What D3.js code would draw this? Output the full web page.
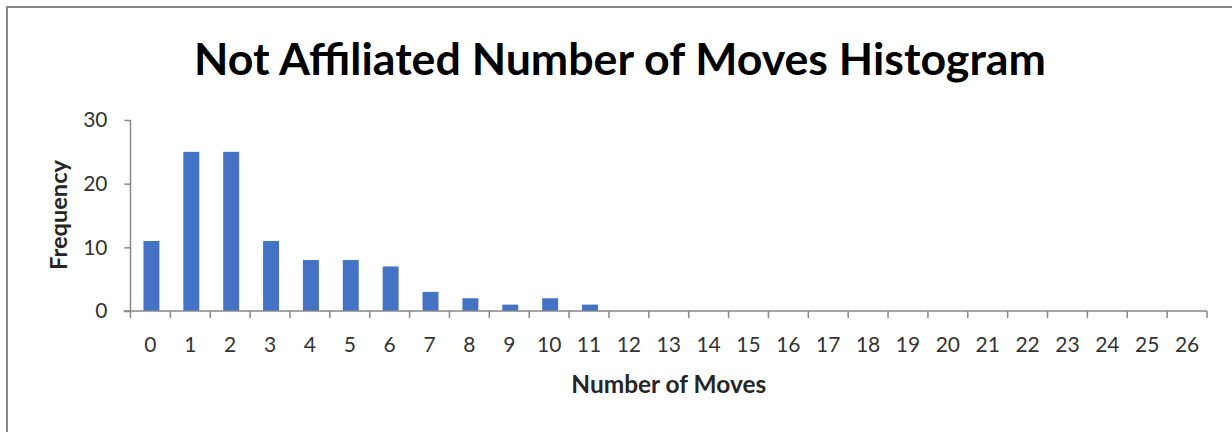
<!DOCTYPE html>
<html>
<head>
<meta charset="utf-8">
<script src="https://cdn.jsdelivr.net/npm/d3@7"></script>
<style>
html,body{margin:0;padding:0;background:#fff;}
svg{display:block;}
</style>
</head>
<body>
<script>
const categories = ["0","1","2","3","4","5","6","7","8","9","10","11","12","13","14","15","16","17","18","19","20","21","22","23","24","25","26"];
const frequency = [11,25,25,11,8,8,7,3,2,1,2,1,0,0,0,0,0,0,0,0,0,0,0,0,0,0,0];
const yTicks = [0,10,20,30];
const titleText = "Not Affiliated Number of Moves Histogram";
const xLabel = "Number of Moves";
const yLabel = "Frequency";

const W = 1232, H = 432;
const pLeft = 130.5, pRight = 1207, pTop = 120, pBottom = 311;

const svg = d3.select("body").append("svg").attr("width", W).attr("height", H);

svg.append("rect").attr("x", 7).attr("y", 7).attr("width", 1240).attr("height", 440)
  .attr("fill", "#fff").attr("stroke", "#888").attr("stroke-width", 2);

const x = d3.scaleBand().domain(categories).range([pLeft, pRight]).paddingInner(0.6).paddingOuter(0.3);
const y = d3.scaleLinear().domain([0, 30]).range([pBottom, pTop]);

const axisColor = "#878787";
const labelColor = "#333";
const tickFont = "21px";

// bars
svg.append("g").selectAll("rect").data(frequency).join("rect")
  .attr("x", (d, i) => x(categories[i]) + 1)
  .attr("y", d => y(d))
  .attr("width", x.bandwidth())
  .attr("height", d => y(0) - y(d))
  .attr("fill", "#4472C4");

// y axis
const yAxis = svg.append("g").attr("transform", `translate(${pLeft},0)`)
  .call(d3.axisLeft(y).tickValues(yTicks).tickSize(6).tickPadding(17).tickFormat(d3.format("d")));
yAxis.select(".domain").attr("stroke", axisColor).attr("stroke-width", 1.5).attr("d", `M0,${pTop}V${pBottom}`);
yAxis.selectAll(".tick line").attr("stroke", axisColor).attr("stroke-width", 1.5);
yAxis.selectAll(".tick text").attr("fill", labelColor).style("font-family", "Lato, 'Open Sans', sans-serif").style("font-size", tickFont);

// x axis (labels via band axis, boundary ticks drawn separately)
const xAxis = svg.append("g").attr("transform", `translate(0,${pBottom})`)
  .call(d3.axisBottom(x).tickSize(0).tickPadding(26));
xAxis.select(".domain").remove();
xAxis.selectAll(".tick text").attr("fill", labelColor).style("font-family", "Lato, 'Open Sans', sans-serif").style("font-size", tickFont);

const half = (x.step() - x.bandwidth()) / 2;
const bounds = categories.map(c => x(c) - half).concat([x.range()[1]]);
svg.append("line").attr("x1", pLeft - 7).attr("x2", pRight).attr("y1", pBottom).attr("y2", pBottom)
  .attr("stroke", axisColor).attr("stroke-width", 1.5);
svg.append("g").selectAll("line").data(bounds).join("line")
  .attr("x1", d => d).attr("x2", d => d).attr("y1", pBottom).attr("y2", pBottom + 7)
  .attr("stroke", axisColor).attr("stroke-width", 1.5);

function fit(sel, target) {
  const len = sel.node().getComputedTextLength();
  const fs = parseFloat(sel.style("font-size"));
  sel.style("font-size", (fs * target / len) + "px");
}

const title = svg.append("text").attr("x", 620).attr("y", 75).attr("text-anchor", "middle")
  .style("font-family", "Lato, 'Open Sans', sans-serif").style("font-weight", "bold").style("font-size", "40px")
  .attr("fill", "#000").text(titleText);
fit(title, 852);

const xl = svg.append("text").attr("x", (pLeft + pRight) / 2).attr("y", 393).attr("text-anchor", "middle")
  .style("font-family", "Lato, 'Open Sans', sans-serif").style("font-weight", "bold").style("font-size", "20px")
  .attr("fill", "#262626").text(xLabel);
fit(xl, 195);

const yl = svg.append("text").attr("transform", "translate(67,215) rotate(-90)").attr("text-anchor", "middle")
  .style("font-family", "Lato, 'Open Sans', sans-serif").style("font-weight", "bold").style("font-size", "20px")
  .attr("fill", "#262626").text(yLabel);
fit(yl, 110);
</script>
</body>
</html>
